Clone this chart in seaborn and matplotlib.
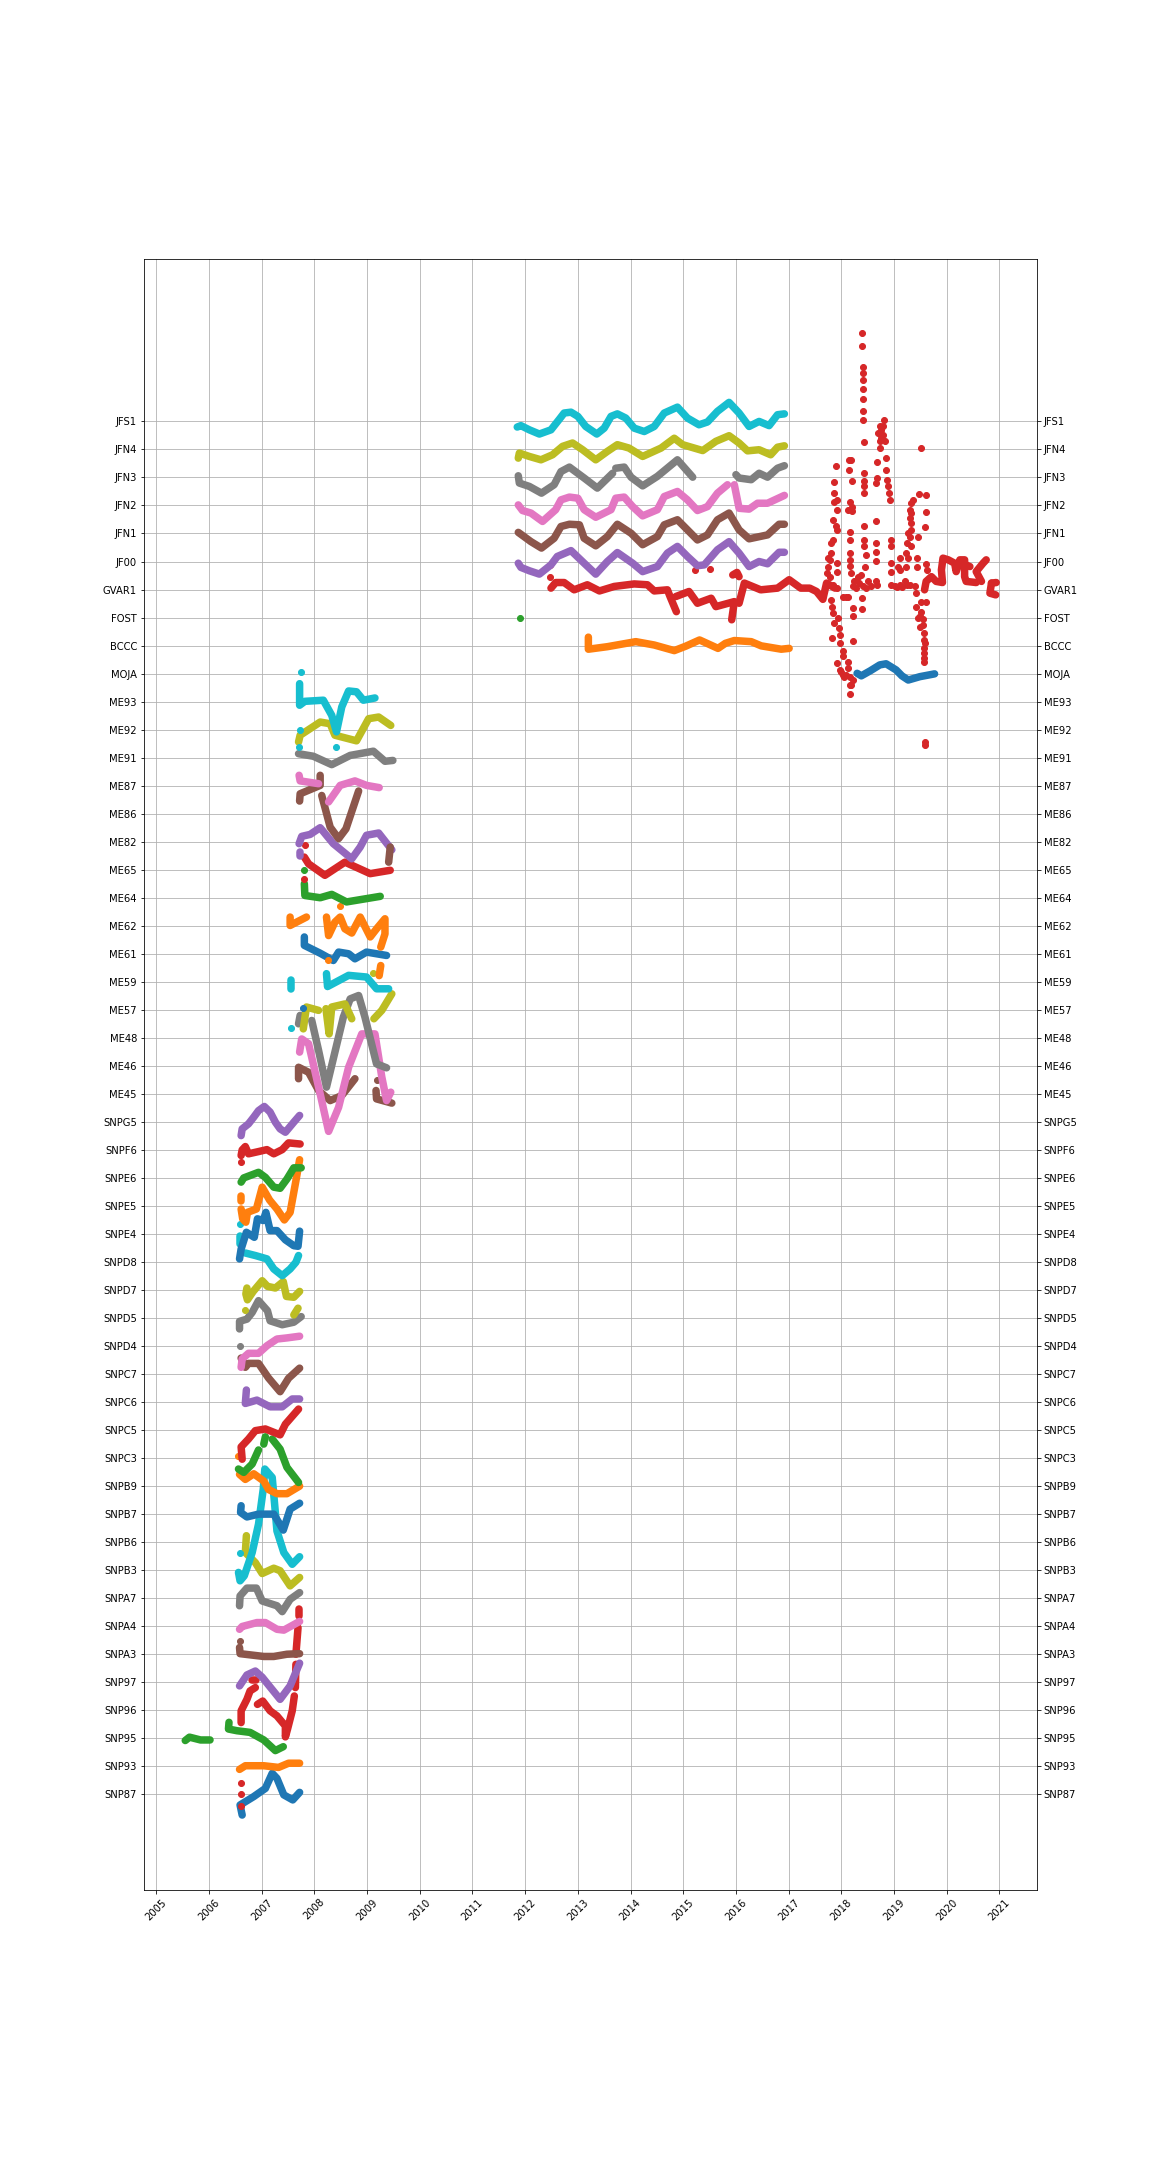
import matplotlib
matplotlib.use('Agg')
import matplotlib.pyplot as plt
import seaborn as sns

# station names bottom to top, row = index in this list
stations = ['SNP87','SNP93','SNP95','SNP96','SNP97','SNPA3','SNPA4','SNPA7','SNPB3','SNPB6',
            'SNPB7','SNPB9','SNPC3','SNPC5','SNPC6','SNPC7','SNPD4','SNPD5','SNPD7','SNPD8',
            'SNPE4','SNPE5','SNPE6','SNPF6','SNPG5','ME45','ME46','ME48','ME57','ME59',
            'ME61','ME62','ME64','ME65','ME82','ME86','ME87','ME91','ME92','ME93',
            'MOJA','BCCC','FOST','GVAR1','JF00','JFN1','JFN2','JFN3','JFN4','JFS1']
years = list(range(2005, 2022))

# each station: list of pieces, each piece (year, offset from its row); one point = lone dot
SNP87 = [[(2006.63,-.74),(2006.59,-.38),(2006.85,-.08),(2007.07,.21),(2007.20,.75),(2007.29,.57),(2007.42,-.02),(2007.59,-.20),(2007.72,.07)]]
SNP93 = [[(2006.58,-.11),(2006.69,.02),(2007.04,.02),(2007.32,-.04),(2007.51,.11),(2007.72,.11)]]
SNP95 = [[(2005.55,-.08),(2005.63,.04),(2005.84,-.06),(2006.02,-.06)],
         [(2006.38,.57),(2006.37,.33),(2006.53,.27),(2006.78,.21),(2007.04,-.06),(2007.26,-.44),(2007.41,-.30)]]
SNP96 = [[(2006.60,-2.58)],[(2006.60,-3.0)],[(2006.60,-3.42)],
         [(2006.61,-.44),(2006.61,-.02),(2006.72,.39),(2006.78,.69),(2006.88,.81)],
         [(2006.82,1.08),(2006.90,1.08)],
         [(2006.92,.21),(2007.02,.33),(2007.16,-.02),(2007.29,-.20),(2007.45,-.56),(2007.45,-.95),(2007.49,-.68),(2007.58,-.02),(2007.62,.51)],
         [(2007.64,.81),(2007.65,1.64)],[(2007.65,2.0),(2007.69,2.95)],[(2007.70,3.37),(2007.70,3.61)]]
SNP97 = [[(2006.58,-.13),(2006.72,.26),(2006.88,.40),(2007.01,.18),(2007.35,-.61),(2007.54,-.13),(2007.72,.68)]]
SNPA3 = [[(2006.58,.48)],[(2006.58,.24),(2006.59,.02),(2007.04,-.08),(2007.23,-.08),(2007.48,0),(2007.72,.02)]]
SNPA4 = [[(2006.58,-.11),(2006.63,-.01),(2006.91,.13),(2007.07,.13),(2007.29,-.11),(2007.42,-.14),(2007.72,.17)]]
SNPA7 = [[(2006.58,-.27),(2006.59,.08),(2006.72,.36),(2006.90,.36),(2007.01,-.10),(2007.29,-.27),(2007.39,-.48),(2007.54,-.04),(2007.72,.20)]]
SNPB3 = [[(2006.71,1.23),(2006.69,.63),(2006.88,.27),(2007.01,-.12),(2007.23,.07),(2007.35,-.02),(2007.54,-.56),(2007.72,-.26)]]
SNPB6 = [[(2006.59,-.37)],
         [(2006.56,-1.08),(2006.59,-1.38),(2006.67,-1.20),(2006.82,-.37),(2006.94,.64),(2007.03,1.89),(2007.06,2.61),(2007.20,2.31),(2007.24,1.48),(2007.29,.40),(2007.42,-.37),(2007.58,-.79),(2007.72,-.52)]]
SNPB7 = [[(2006.61,.30),(2006.60,.06),(2006.72,-.10),(2006.94,0),(2007.23,0),(2007.41,-.57),(2007.54,.18),(2007.72,.39)]]
SNPB9 = [[(2006.56,1.07)],[(2006.58,.42),(2006.69,.24),(2006.85,.44),(2007.04,.18),(2007.13,-.12),(2007.29,-.27),(2007.48,-.27),(2007.72,0)]]
SNPC3 = [[(2007.04,.50),(2007.07,.76)],
         [(2006.56,-.39),(2006.66,-.51),(2006.82,-.21),(2006.94,.29)],
         [(2007.20,.68),(2007.35,.32),(2007.48,-.33),(2007.70,-.87)]]
SNPC5 = [[(2006.63,-1.04),(2006.61,-.60),(2006.75,-.32),(2006.88,-.02),(2007.07,.04),(2007.35,-.17),(2007.45,.21),(2007.70,.75)]]
SNPC6 = [[(2006.71,.43),(2006.69,-.05),(2006.91,.07),(2007.16,-.17),(2007.39,-.17),(2007.58,.11),(2007.72,.11)]]
SNPC7 = [[(2006.61,.57),(2006.69,.24),(2006.75,.38),(2006.94,.38),(2007.13,-.14),(2007.35,-.63),(2007.51,-.15),(2007.72,.21)]]
SNPD4 = [[(2006.61,-.76),(2006.63,-.46),(2006.75,-.26),(2006.94,-.26),(2007.10,.01),(2007.29,.25),(2007.48,.29),(2007.72,.35)]]
SNPD5 = [[(2006.58,-1.0)],[(2006.58,-.39),(2006.58,-.12),(2006.72,-.04),(2006.82,.20),(2006.94,.62),(2007.11,.26),(2007.16,-.10),(2007.39,-.24),(2007.61,-.15),(2007.75,.05)]]
SNPD7 = [[(2006.68,-.70)],[(2007.61,-.89),(2007.69,-.65)],
         [(2006.72,.07),(2006.70,-.14),(2006.73,-.35),(2006.84,-.05),(2007.01,.33),(2007.11,.13),(2007.26,.07),(2007.41,.30),(2007.47,-.23),(2007.61,-.26),(2007.72,-.05)]]
SNPD8 = [[(2006.59,1.36)],[(2006.59,.94),(2006.59,.64)],
         [(2006.69,.32),(2006.88,.23),(2007.10,.11),(2007.23,-.25),(2007.39,-.49),(2007.54,-.25),(2007.65,-.01),(2007.70,.23)]]
SNPE4 = [[(2006.58,-.89),(2006.61,-.54),(2006.71,.06),(2006.86,-.12),(2006.92,.54),(2007.03,.48),(2007.08,.77),(2007.16,.12),(2007.29,.12),(2007.45,-.21),(2007.61,-.42),(2007.69,-.44),(2007.72,.10)]]
SNPE5 = [[(2006.61,.37),(2006.61,.19)],
         [(2006.61,-.11),(2006.64,-.46),(2006.70,-.58),(2006.73,-.23),(2006.90,-.11),(2007.01,.67),(2007.15,.21),(2007.29,-.11),(2007.43,-.50),(2007.54,-.23),(2007.65,.90),(2007.72,1.65)]]
SNPE6 = [[(2006.61,-.15),(2006.66,0),(2006.94,.20),(2007.07,.02),(2007.23,-.33),(2007.35,-.37),(2007.48,-.04),(2007.61,.36),(2007.75,.36)]]
SNPF6 = [[(2006.61,-.44)],[(2006.61,-.20),(2006.63,0),(2006.69,.12),(2006.75,-.14),(2006.94,-.06),(2007.10,.01),(2007.23,-.14),(2007.39,.01),(2007.51,.25),(2007.73,.21)]]
SNPG5 = [[(2006.61,-.49),(2006.63,-.25),(2006.75,-.07),(2006.85,.17),(2006.94,.40),(2007.05,.55),(2007.16,.35),(2007.26,-.01),(2007.35,-.25),(2007.45,-.37),(2007.61,-.01),(2007.72,.23)]]
ME45 = [[(2009.18,.48)],[(2007.70,.54),(2007.70,.95),(2007.89,.77),(2008.08,.12),(2008.30,-.24),(2008.52,-.06),(2008.77,.54)],
        [(2009.17,.12),(2009.18,-.18),(2009.47,-.33)]]
ME46 = [[(2007.72,.49),(2007.76,.96),(2007.89,.79),(2008.11,-1.0),(2008.27,-2.34),(2008.46,-1.48),(2008.65,-.05),(2008.90,1.14),(2009.15,1.14),(2009.28,-.40),(2009.37,-1.24),(2009.45,-.94)]]
ME48 = [[(2007.70,.50),(2007.73,.80)],
        [(2007.95,.62),(2008.08,-.45),(2008.23,-1.76),(2008.55,.74),(2008.68,1.39),(2008.84,1.51),(2008.96,.74),(2009.18,-.93),(2009.37,-1.07)]]
ME57 = [[(2009.12,1.31)],[(2007.79,-.68),(2007.85,.10),(2008.08,-.02)],
        [(2008.22,.04),(2008.28,-.86),(2008.33,.10),(2008.58,.21),(2008.71,-.32)],
        [(2009.13,-.32),(2009.28,-.02),(2009.47,.57)]]
ME59 = [[(2007.55,.05),(2007.55,-.25)],[(2007.55,-1.64)],
        [(2008.23,.29),(2008.25,-.17),(2008.65,.23),(2008.99,.17),(2009.18,-.25),(2009.41,-.25)]]
ME61 = [[(2007.79,-1.93)],[(2007.81,.60),(2007.81,.30),(2008.11,.02),(2008.36,-.24),(2008.46,.06),(2008.65,0),(2008.77,-.18),(2008.99,.06),(2009.37,-.06)]]
ME62 = [[(2007.54,.31),(2007.54,.01),(2007.85,.31)],[(2008.48,.70)],[(2008.25,-1.21)],
        [(2008.23,.31),(2008.27,-.35),(2008.39,.13),(2008.49,.31),(2008.58,-.11),(2008.71,-.26),(2008.87,.31),(2009.06,-.40),(2009.18,-.11),(2009.34,.25),(2009.34,-.29),(2009.26,-.76)],
        [(2009.26,-1.42),(2009.23,-1.78)]]
ME64 = [[(2007.80,.98)],[(2007.81,.50),(2007.82,.08),(2008.11,0),(2008.33,.12),(2008.61,-.15),(2009.25,.05)]]
ME65 = [[(2007.82,.87)],[(2007.81,-.32)],[(2007.81,.45),(2007.89,.21),(2008.20,-.20),(2008.58,.27),(2009.06,-.14),(2009.44,-.02)]]
ME82 = [[(2007.72,-.37),(2007.72,-.52)],
        [(2007.71,-.07),(2007.76,.19),(2007.92,.26),(2008.11,.50),(2008.36,-.07),(2008.71,-.61),(2008.87,-.19),(2008.99,.23),(2009.22,.31),(2009.47,-.29)]]
ME86 = [[(2007.72,.45),(2007.73,.71),(2008.11,1.01),(2008.11,1.37)],
        [(2008.14,.65),(2008.30,-.48),(2008.46,-.89),(2008.60,-.54),(2008.84,.81)],
        [(2009.44,-1.19),(2009.41,-1.73)]]
ME87 = [[(2007.71,.37),(2007.73,.17),(2008.08,.07)],[(2008.27,-.58),(2008.49,.01),(2008.77,.17),(2008.99,.01),(2009.23,-.07)]]
ME91 = [[(2007.70,.14),(2007.98,.05),(2008.33,-.25),(2008.68,.08),(2009.12,.23),(2009.34,-.13),(2009.49,-.10)]]
ME92 = [[(2007.70,-.44),(2007.73,-.20),(2008.11,.27),(2008.30,.21),(2008.39,-.20),(2008.80,-.40),(2009.03,.39),(2009.22,.45),(2009.45,.15)]]
ME93 = [[(2007.74,1.07)],[(2007.72,-1.02)],[(2007.70,-1.62)],[(2008.42,-1.62)],
        [(2007.72,.64),(2007.72,-.13),(2007.82,.01),(2008.17,.05),(2008.33,-.49),(2008.42,-1.08),(2008.52,-.19),(2008.65,.38),(2008.80,.35),(2008.93,.05),(2009.15,.13)]]
MOJA = [[(2018.30,.01),(2018.38,-.08),(2018.55,.1),(2018.73,.31),(2018.85,.35),(2019.04,.13),(2019.15,-.08),(2019.27,-.23),(2019.49,-.11),(2019.77,-.01)]]
BCCC = [[(2013.20,.30),(2013.20,-.13),(2013.56,-.04),(2014.10,.14),(2014.45,.02),(2014.83,-.18),(2015.05,-.02),(2015.31,.20),(2015.66,-.10),(2015.80,.08),(2015.97,.18),(2016.29,.14),(2016.48,-.01),(2016.86,-.13),(2017.01,-.10)]]
FOST = [[(2011.91,0)]]
GVAR1 = [[(2012.47,.88)],[(2012.47,.43)],[(2015.23,.70)],[(2015.51,.73)],[(2015.94,.52),(2016.02,.61),(2016.06,.46)],
         [(2012.49,.05),(2012.58,.25),(2012.74,.25),(2012.93,-.01),(2013.18,.17),(2013.41,-.05),(2013.69,.11),(2014.07,.20),(2014.32,.17),(2014.45,-.05),(2014.70,-.01),(2014.75,-.25),(2014.87,-.79)],
         [(2014.86,-.25),(2015.11,-.07),(2015.27,-.49),(2015.53,-.31),(2015.62,-.61),(2015.97,-.43),(2015.92,-1.08)],
         [(2016.06,-.49),(2016.16,.23),(2016.47,-.01),(2016.79,.05),(2017.01,.35),(2017.23,.05),(2017.40,.05),(2017.53,-.07),(2017.65,-.35),(2017.72,.23),(2017.88,.05)],
         [(2019.58,-.01),(2019.61,.29),(2019.71,.46),(2019.80,.29),(2019.92,.25),(2019.90,.70),(2019.93,1.12),(2020.03,1.06),(2020.15,.94),(2020.18,.64),(2020.25,1.06),(2020.34,1.06),(2020.34,.46),(2020.37,.29),(2020.56,.25)],
         [(2020.44,.82),(2020.34,.90)],[(2020.66,.29),(2020.56,.64),(2020.69,.94),(2020.75,1.06)],
         [(2020.85,.23),(2020.94,.25)],[(2020.85,.23),(2020.82,-.13),(2020.93,-.19)]]
# scattered dots of GVAR1 in 2017.7 - 2019.6
gvar1_dots = [(2018.39,9.15),(2018.39,8.70),(2018.41,7.94),(2018.41,7.73),(2018.41,7.49),(2018.41,7.17),(2018.41,6.80),(2018.41,6.36),(2018.41,6.06),(2018.43,5.26),
              (2018.81,6.06),(2018.73,5.82),(2018.79,5.82),(2018.70,5.58),(2018.79,5.52),(2018.73,5.29),(2018.82,5.29),(2018.73,5.05),(2018.76,5.7),(2018.76,5.4),
              (2019.51,5.05),(2018.85,4.69),(2018.68,4.55),(2018.85,4.27),(2018.68,3.98),(2018.66,3.80),
              (2018.87,3.92),(2018.89,3.68),(2018.91,3.44),(2018.93,3.20),
              (2017.90,4.42),(2017.86,3.83),(2017.87,3.44),(2017.91,3.20),(2017.87,3.14),(2017.91,2.85),(2017.84,2.49),(2017.89,2.25),(2017.91,2.13),
              (2018.14,4.63),(2018.18,4.63),(2018.15,4.25),(2018.20,3.86),(2018.43,4.15),(2018.43,3.86),(2018.43,3.68),(2018.44,3.44),
              (2018.16,3.14),(2018.21,2.96),(2018.13,2.85),(2018.21,2.79),(2018.66,2.44),(2018.43,2.25),(2018.16,2.04),(2018.16,1.77),
              (2017.84,1.77),(2017.81,1.65),(2018.44,1.77),(2018.44,1.54),(2018.46,1.24),(2018.66,1.65),(2018.66,1.33),(2018.66,1.02),
              (2018.17,1.30),(2018.17,1.06),(2018.16,.85),(2018.18,.58),(2018.45,.80),(2018.95,1.77),(2018.95,1.54),(2018.95,.94),(2018.95,.62),
              (2019.36,3.20),(2019.33,3.08),(2019.30,2.85),(2019.33,2.37),(2019.27,2.01),(2019.25,1.65),(2019.23,1.30),(2019.22,.82),
              (2019.32,2.73),(2019.30,2.55),(2019.33,2.13),(2019.30,1.89),(2019.33,1.54),(2019.27,1.12),
              (2019.47,3.40),(2019.61,3.37),(2019.61,2.76),(2019.59,2.23),(2019.46,1.86),
              (2019.11,1.12),(2019.08,.82),(2019.11,.70),(2019.44,1.12),(2019.44,.82),(2019.61,.92),(2019.63,.70),
              (2017.81,1.30),(2017.75,1.12),(2017.75,.82),(2017.78,1.06),(2017.72,.58),(2017.91,.94),(2017.91,.64),(2017.78,.45),(2017.85,.15),(2017.91,.05),
              (2017.81,-.37),(2017.82,-.61),(2017.84,-.85),(2017.94,-1.02),(2017.87,-1.18),(2017.96,-1.38),(2017.97,-1.62),(2017.82,-1.74),(2017.98,-1.92),
              (2018.03,-2.21),(2018.03,-2.39),(2017.91,-2.63),(2018.13,-2.57),(2018.00,-2.94),(2018.06,-3.12),(2018.16,-3.40),(2018.22,-3.23),(2018.16,-3.74),
              (2017.97,-2.88),(2018.03,-3.05),(2018.09,-3.05),(2018.13,-2.81),(2018.16,-3.11),(2018.19,-3.40),(2018.22,-1.83),
              (2018.03,-.25),(2018.13,-.25),(2018.08,-.25),(2018.22,-.67),(2018.22,-.94),(2018.39,-.70),(2018.39,-.31),
              (2018.22,.11),(2018.32,.46),(2018.38,.52),(2018.28,.05),(2018.41,.11),(2018.51,.29),(2018.57,.11),(2018.66,.29),(2018.68,.17),(2018.47,.05),(2018.33,.25),(2018.25,.3),
              (2018.94,.17),(2019.01,.11),(2019.11,.17),(2019.20,.29),(2019.30,.17),(2019.39,.11),(2019.42,-.13),(2019.05,.1),(2019.15,.1),(2019.25,.15),
              (2019.42,-.61),(2019.52,-.43),(2019.60,-.43),(2019.46,-1.02),(2019.52,-.79),(2019.55,-1.26),(2019.49,-1.32),(2019.56,-1.56),(2019.58,-1.92),(2019.57,-2.27),(2019.57,-2.57),
              (2019.50,-.95),(2019.55,-1.05),(2019.56,-1.8),(2019.57,-2.1),(2019.57,-2.45),
              (2019.59,-5.43),(2019.59,-5.55)]
JF00 = [[(2011.87,-.06),(2011.92,-.21),(2012.08,-.33),(2012.27,-.45),(2012.49,-.12),(2012.61,.18),(2012.87,.39),(2013.12,-.06),(2013.34,-.45),(2013.56,0),(2013.75,.32),(2014.04,-.06),(2014.23,-.36),(2014.51,-.18),(2014.70,.30),(2014.89,.54),(2015.08,.18),(2015.27,-.15),(2015.40,-.12),(2015.65,.42),(2015.87,.71),(2016.06,.30),(2016.25,-.18),(2016.44,0),(2016.60,-.08),(2016.82,.33),(2016.92,.33)]]
JFN1 = [[(2011.87,.04),(2012.11,-.29),(2012.31,-.52),(2012.55,-.17),(2012.68,.25),(2012.84,.33),(2013.03,.31),(2013.12,-.17),(2013.34,-.44),(2013.56,-.11),(2013.75,.33),(2014.01,.01),(2014.23,-.40),(2014.51,-.11),(2014.64,.31),(2014.89,.49),(2015.08,.13),(2015.27,-.23),(2015.46,-.05),(2015.65,.49),(2015.87,.73),(2016.06,.13),(2016.25,-.19),(2016.60,-.05),(2016.82,.33),(2016.92,.33)]]
JFN2 = [[(2011.87,.02),(2011.95,-.18),(2012.11,-.27),(2012.33,-.57),(2012.58,-.15),(2012.68,.20),(2012.84,.30),(2013.00,.26),(2013.12,-.15),(2013.34,-.42),(2013.63,-.15),(2013.72,.26),(2013.88,.30),(2014.04,-.04),(2014.23,-.37),(2014.51,-.15),(2014.64,.32),(2014.89,.50),(2015.08,.20),(2015.27,-.18),(2015.46,-.04),(2015.65,.44),(2015.84,.74)],
        [(2015.97,.74),(2016.06,-.10),(2016.25,-.13),(2016.41,.08),(2016.60,.08),(2016.92,.36)]]
JFN3 = [[(2011.87,.06),(2011.89,-.20),(2012.08,-.32),(2012.31,-.56),(2012.55,-.26),(2012.68,.21),(2012.84,.37),(2013.12,-.02),(2013.37,-.38),(2013.66,.15)],
        [(2013.72,.33),(2013.88,.37),(2014.01,.01),(2014.23,-.30),(2014.51,.04),(2014.89,.63),(2015.18,.01)],
        [(2016.00,.10),(2016.06,-.02),(2016.29,-.08),(2016.44,.15),(2016.60,.01),(2016.79,.33),(2016.92,.42)]]
JFN4 = [[(2011.87,-.31),(2011.89,-.13),(2012.08,-.25),(2012.30,-.37),(2012.52,-.19),(2012.71,.11),(2012.90,.23),(2013.09,-.01),(2013.34,-.37),(2013.56,-.07),(2013.75,.17),(2013.97,.05),(2014.23,-.25),(2014.58,.05),(2014.83,.40),(2014.99,.17),(2015.37,-.04),(2015.62,.29),(2015.87,.49),(2016.06,.23),(2016.22,-.05),(2016.44,-.01),(2016.66,-.19),(2016.79,.08),(2016.92,.13)]]
JFS1 = [[(2011.85,-.20),(2011.92,-.15),(2012.08,-.30),(2012.27,-.45),(2012.49,-.30),(2012.65,.08),(2012.74,.30),(2012.87,.33),(2013.00,.18),(2013.15,-.18),(2013.36,-.45),(2013.50,-.24),(2013.63,.18),(2013.75,.27),(2013.91,.12),(2014.07,-.24),(2014.26,-.36),(2014.45,-.18),(2014.64,.30),(2014.89,.51),(2015.08,.12),(2015.30,-.12),(2015.46,-.02),(2015.65,.36),(2015.87,.68),(2016.06,.30),(2016.25,-.18),(2016.44,0),(2016.63,-.15),(2016.79,.24),(2016.92,.27)]]

pieces = [SNP87,SNP93,SNP95,SNP96,SNP97,SNPA3,SNPA4,SNPA7,SNPB3,SNPB6,
          SNPB7,SNPB9,SNPC3,SNPC5,SNPC6,SNPC7,SNPD4,SNPD5,SNPD7,SNPD8,
          SNPE4,SNPE5,SNPE6,SNPF6,SNPG5,ME45,ME46,ME48,ME57,ME59,
          ME61,ME62,ME64,ME65,ME82,ME86,ME87,ME91,ME92,ME93,
          MOJA,BCCC,FOST,GVAR1,JF00,JFN1,JFN2,JFN3,JFN4,JFS1]

palette = sns.color_palette('tab10')

fig = plt.figure(figsize=(16, 30), dpi=72)
ax = fig.add_axes([0.125, 0.125, 0.775, 0.755])
ax.set_axisbelow(True)

for row, station in enumerate(pieces):
    color = palette[row % 10]
    for piece in station:
        x = [p[0] for p in piece]
        y = [row + p[1] for p in piece]
        if len(piece) > 1:
            sns.lineplot(x=x, y=y, ax=ax, color=color, estimator=None, sort=False,
                         linewidth=7.5, solid_capstyle='round', solid_joinstyle='round',
                         zorder=2)
        else:
            sns.scatterplot(x=x, y=y, ax=ax, color=color, s=36, edgecolor=color, linewidth=1, zorder=2)
    if stations[row] == 'GVAR1':
        sns.scatterplot(x=[p[0] for p in gvar1_dots], y=[row + p[1] for p in gvar1_dots],
                        ax=ax, color=color, s=36, edgecolor=color, linewidth=1, zorder=2)

ax.set_xticks(years)
ax.set_xticklabels(years, rotation=45)
ax.set_yticks(range(len(stations)))
ax.set_yticklabels(stations)
ax.tick_params(axis='y', labelright=True, right=True)
ax.set_xlim(2004.767, 2021.71)
ax.set_ylim(-3.415, 54.79)
ax.grid(True)

fig.savefig('out.png', dpi=72)
